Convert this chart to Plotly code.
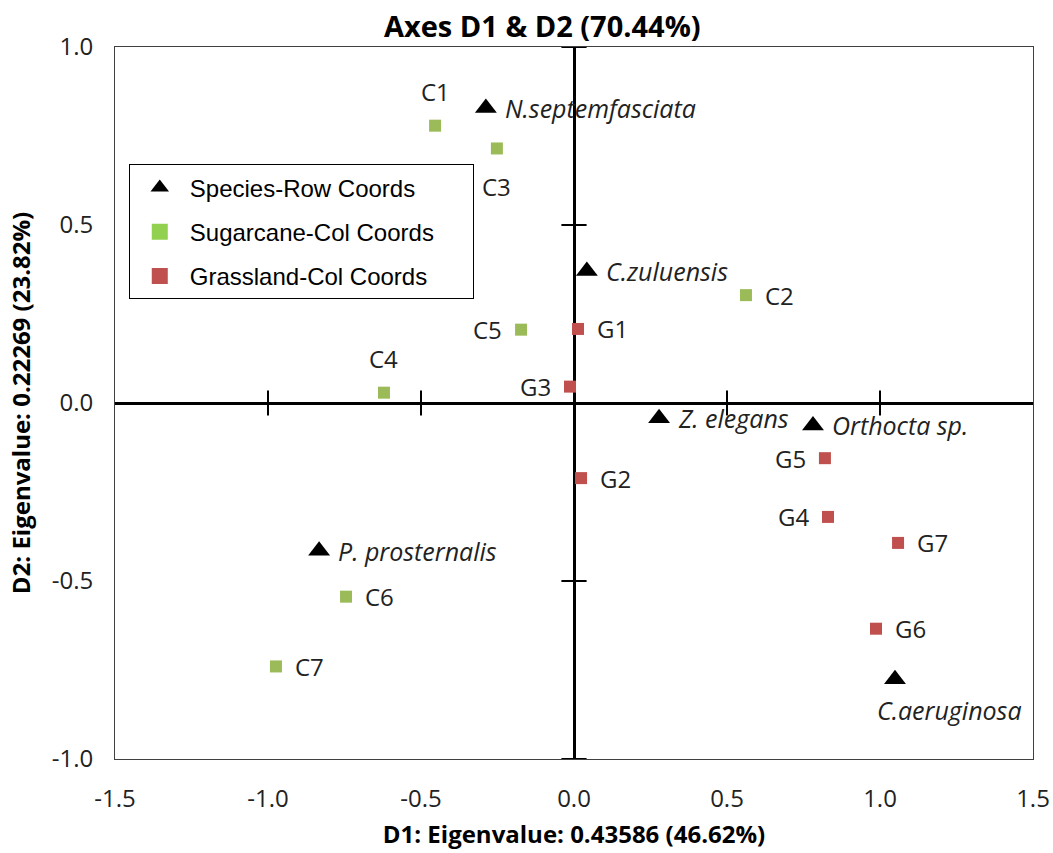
import plotly.graph_objects as go

# ---- data ----
species_names = ["N.septemfasciata", "C.zuluensis", "Z. elegans", "Orthocta sp.", "P. prosternalis", "C.aeruginosa"]
species_x = [-0.288, 0.042, 0.278, 0.781, -0.833, 1.049]
species_y = [0.829, 0.371, -0.043, -0.063, -0.415, -0.776]
species_pos = ["r", "r", "r", "r", "r", "bl"]

sugar_names = ["C1", "C2", "C3", "C4", "C5", "C6", "C7"]
sugar_x = [-0.454, 0.562, -0.252, -0.621, -0.173, -0.745, -0.974]
sugar_y = [0.779, 0.303, 0.715, 0.029, 0.206, -0.544, -0.740]
sugar_pos = ["t", "r", "b", "t", "l", "r", "r"]

grass_names = ["G1", "G2", "G3", "G4", "G5", "G6", "G7"]
grass_x = [0.013, 0.023, -0.013, 0.830, 0.820, 0.987, 1.059]
grass_y = [0.208, -0.211, 0.046, -0.320, -0.155, -0.634, -0.393]
grass_pos = ["r", "r", "l", "l", "l", "r", "r"]

x_ticks = [-1.5, -1.0, -0.5, 0.0, 0.5, 1.0, 1.5]
y_ticks = [-1.0, -0.5, 0.0, 0.5, 1.0]

legend_names = ["Species-Row Coords", "Sugarcane-Col Coords", "Grassland-Col Coords"]

title = "Axes D1 & D2 (70.44%)"
x_title = "D1: Eigenvalue: 0.43586 (46.62%)"
y_title = "D2: Eigenvalue: 0.22269 (23.82%)"

# ---- styles ----
GREEN = "#9BBB59"
GREEN_LEG = "#92D050"
RED = "#C0504D"
FONT = "Open Sans, sans-serif"
NBSP = "\u00a0"

fig = go.Figure()

# tick marks crossing the zero lines
xt_inner = [t for t in x_ticks if t != 0 and abs(t) < 1.5]
yt_inner = [t for t in y_ticks if t != 0]
fig.add_trace(go.Scatter(
    x=xt_inner, y=[0] * len(xt_inner), mode="markers",
    marker=dict(symbol="line-ns", size=18, line=dict(width=2, color="black")),
    showlegend=False, hoverinfo="skip"))
fig.add_trace(go.Scatter(
    x=[0] * len(yt_inner), y=yt_inner, mode="markers",
    marker=dict(symbol="line-ew", size=18, line=dict(width=2, color="black")),
    showlegend=False, hoverinfo="skip", cliponaxis=False))

fig.add_trace(go.Scatter(x=sugar_x, y=sugar_y, mode="markers", name=legend_names[1],
                         marker=dict(symbol="square", size=12, color=GREEN), showlegend=False))
fig.add_trace(go.Scatter(x=grass_x, y=grass_y, mode="markers", name=legend_names[2],
                         marker=dict(symbol="square", size=12, color=RED), showlegend=False))
fig.add_trace(go.Scatter(x=species_x, y=species_y, mode="markers", name=legend_names[0],
                         marker=dict(symbol="triangle-up", size=19, color="black"), showlegend=False))

# legend entries
leg_symbols = ["triangle-up", "square", "square"]
leg_colors = ["black", GREEN_LEG, RED]
for i, (nm, sym, col) in enumerate(zip(legend_names, leg_symbols, leg_colors)):
    fig.add_trace(go.Scatter(x=[None], y=[None], mode="markers", name=nm + NBSP * 5,
                             legendgroup=f"g{i}",
                             marker=dict(symbol=sym, size=18, color=col)))

annotations = []

def add_labels(names, xs, ys, pos, italic, size, dx, dy_t, dy_b):
    for n, x, y, p in zip(names, xs, ys, pos):
        txt = f"<i>{n}</i>" if italic else n
        a = dict(x=x, y=y, text=txt, showarrow=False,
                 font=dict(family=FONT, size=size, color="#222222"))
        if p == "r":
            a.update(xanchor="left", yanchor="middle", xshift=dx)
        elif p == "l":
            a.update(xanchor="right", yanchor="middle", xshift=-dx)
        elif p == "t":
            a.update(xanchor="center", yanchor="bottom", yshift=dy_t)
        elif p == "bl":
            a.update(xanchor="left", yanchor="top", yshift=-dy_b, xshift=-20)
        else:
            a.update(xanchor="center", yanchor="top", yshift=-dy_b)
        annotations.append(a)

add_labels(species_names, species_x, species_y, species_pos, True, 25, 17, 18, 12)
add_labels(sugar_names, sugar_x, sugar_y, sugar_pos, False, 24, 17, 16, 20)
add_labels(grass_names, grass_x, grass_y, grass_pos, False, 24, 17, 16, 20)

fig.update_layout(
    width=1053, height=853,
    margin=dict(l=115, r=20, t=47, b=94),
    paper_bgcolor="white", plot_bgcolor="white",
    title=dict(text=f"<b>{title}</b>", x=0.515, xref="container", xanchor="center",
               y=1 - 27 / 853, yref="container", yanchor="middle",
               font=dict(family=FONT, size=29, color="black")),
    xaxis=dict(range=[-1.5, 1.5], tickvals=x_ticks, ticktext=[f"{t:.1f}" for t in x_ticks],
               automargin=False,
               showgrid=False, zeroline=True, zerolinecolor="black", zerolinewidth=2.5,
               showline=True, linecolor="#404040", linewidth=1, mirror=True, ticks="",
               ticklabelstandoff=18,
               tickfont=dict(family=FONT, size=24, color="#222222"),
               title=dict(text=f"<b>{x_title}</b>", standoff=13,
                          font=dict(family=FONT, size=24, color="black"))),
    yaxis=dict(range=[-1.0, 1.0], tickvals=y_ticks, ticktext=[f"{t:.1f}" for t in y_ticks],
               automargin=False,
               showgrid=False, zeroline=True, zerolinecolor="black", zerolinewidth=2.5,
               showline=True, linecolor="#404040", linewidth=1, mirror=True, ticks="",
               ticklabelstandoff=16,
               tickfont=dict(family=FONT, size=24, color="#222222"),
               title=dict(text=f"<b>{y_title}</b>", standoff=14,
                          font=dict(family=FONT, size=24, color="black"))),
    legend=dict(x=0.015, y=0.835, xanchor="left", yanchor="top",
                bordercolor="black", borderwidth=1, bgcolor="white",
                font=dict(family="Liberation Sans, Arial, sans-serif", size=24, color="black"),
                tracegroupgap=10, itemwidth=50, itemsizing="trace"),
    annotations=annotations,
)

fig.write_html("out.html")
